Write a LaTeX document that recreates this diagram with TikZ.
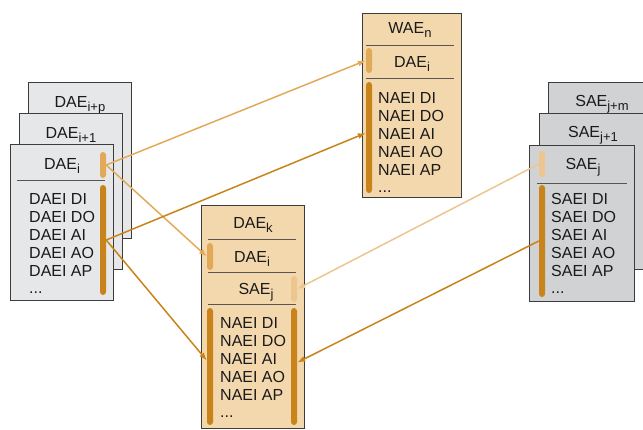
\documentclass[tikz,border=0pt]{standalone}
\usepackage{fontspec}
\setmainfont{Liberation Sans}
\usetikzlibrary{arrows.meta,positioning}
\definecolor{ink}{HTML}{1A1A1A}
\definecolor{frame}{HTML}{3C3C3C}
\definecolor{rule}{HTML}{5A5550}
\definecolor{dgray}{HTML}{E6E7E9}
\definecolor{sgray}{HTML}{D1D2D4}
\definecolor{tan}{HTML}{F3D8AE}
\definecolor{ochre}{HTML}{C8841A}
\definecolor{ochrelt}{HTML}{E2AA58}
\definecolor{ochrepale}{HTML}{EDC58F}
\newcommand{\sub}[1]{\raisebox{-4pt}{\fontsize{13}{13}\selectfont #1}}
\tikzset{
  x=1pt, y=-1pt,
  every node/.style={font=\fontsize{16}{18}\selectfont,text=ink},
  card/.style={draw=frame,line width=1pt,inner sep=0pt,minimum width=103pt,minimum height=156pt,anchor=north west},
  dcard/.style={card,fill=dgray},
  scard/.style={card,fill=sgray,minimum width=105pt},
  tcard/.style={card,fill=tan},
  title/.style={anchor=base,inner sep=0pt},
  item/.style={anchor=base west,inner sep=0pt},
  sep/.style={draw=rule,line width=0.9pt},
  bar/.style={rounded corners=3pt,minimum width=6pt,inner sep=0pt,fill=#1},
  link/.style={-{Latex[length=8pt,width=6pt]},line width=1.5pt,draw=#1}
}
\begin{document}
\begin{tikzpicture}
  \useasboundingbox (0,0) rectangle (643,429);
  \clip (0,0) rectangle (643,429);
  \foreach \n/\px/\py/\s in {2/28/82/i+p,1/19/113/i+1,0/10/144/i} {
    \node[dcard] (dae\n) at (\px,\py) {};
    \node[title] (dt\n) at (\px+52,\py+25) {DAE\sub{\s}};
  }
  \foreach \n/\px/\py/\s in {2/548/82/j+m,1/539/113/j+1,0/529/145/j} {
    \node[scard] (sae\n) at (\px,\py) {};
    \node[title] (st\n) at (\px+54,\py+24) {SAE\sub{\s}};
  }
  \node[tcard,minimum width=99pt,minimum height=184pt] (wae) at (362,13) {};
  \node[title] (wt) at (410,33) {WAE\sub{n}};
  \node[title] (wt1) at (412,67) {DAE\sub{i}};
  \node[tcard,minimum height=223pt] (daek) at (201,205) {};
  \node[title] (kt) at (253,228) {DAE\sub{k}};
  \node[title] (kt1) at (252,262) {DAE\sub{i}};
  \node[title] (kt2) at (256,294) {SAE\sub{j}};

  \draw[sep] (17,180) -- (105,180);
  \draw[sep] (537,183) -- (627,183);
  \draw[sep] (366,45) -- (454,45);
  \draw[sep] (366,78) -- (454,78);
  \foreach \py in {239,272,304}
    \draw[sep] (208,\py) -- (296,\py);

  \foreach \t [count=\k] in {DI,DO,AI,AO,AP} {
    \node[item] (dl\k) at (29,186+18*\k) {DAEI \t};
    \node[item] (sl\k) at (551,186+18*\k) {SAEI \t};
    \node[item] (wl\k) at (378,85+18*\k) {NAEI \t};
    \node[item] (kl\k) at (220,310+18*\k) {NAEI \t};
  }
  \node[item] (dl6) at (29,293) {...};
  \node[item] (sl6) at (551,293) {...};
  \node[item] (wl6) at (378,192) {...};
  \node[item] (kl6) at (220,417) {...};

  \node[bar=ochrelt,minimum height=26pt] (dlt) at (103,165) {};
  \node[bar=ochre,minimum height=110pt] (ddk) at (103,240) {};
  \node[bar=ochrelt,minimum height=25pt] (wlt) at (369,60.5) {};
  \node[bar=ochre,minimum height=111pt] (wdk) at (369,137.5) {};
  \node[bar=ochrelt,minimum height=27pt] (klt) at (210,256.5) {};
  \node[bar=ochre,minimum height=117pt] (kdk) at (210,366.5) {};
  \node[bar=ochrepale,minimum height=26pt] (kst) at (294,289) {};
  \node[bar=ochre,minimum height=117pt] (ksk) at (294,366.5) {};
  \node[bar=ochrepale,minimum height=26pt] (slt) at (542,164) {};
  \node[bar=ochre,minimum height=112pt] (sdk) at (542,241) {};

  \draw[link=ochrelt] (dlt.east) -- (wlt.west);
  \draw[link=ochrelt] (dlt.east) -- (klt.west);
  \draw[link=ochre] (ddk.east) -- ([yshift=4.5pt]wdk.west);
  \draw[link=ochre] (ddk.east) -- ([yshift=6pt]kdk.west);
  \draw[link=ochrepale] (slt.west) -- (kst.east);
  \draw[link=ochre] (sdk.west) -- ([yshift=4pt]ksk.east);
\end{tikzpicture}
\end{document}
